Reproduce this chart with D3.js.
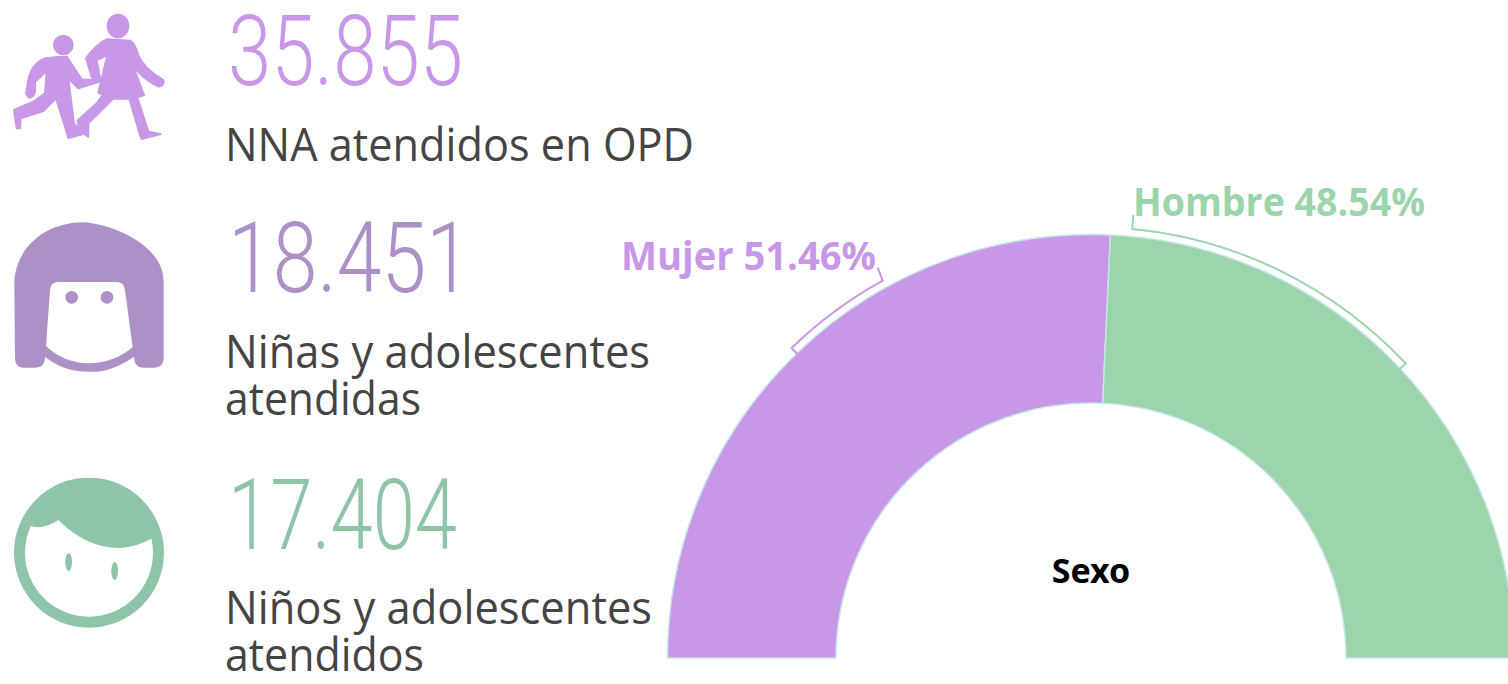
<!DOCTYPE html>
<html><head><meta charset="utf-8">
<script src="https://cdn.jsdelivr.net/npm/d3@7"></script>
<style>html,body{margin:0;padding:0;background:#fff;overflow:hidden}svg{display:block}</style>
</head><body><svg id="c" width="1508" height="684"></svg>
<script>
const sexCategories = ["Mujer", "Hombre"];
const sexValues = [51.46, 48.54];
const sexColors = ["#C997E8", "#9CD4AC"];
const statValues = [35855, 18451, 17404];
const statColors = ["#C997E8", "#AC90C6", "#8EC4A8"];
const statBaselines = [85, 292, 549];
const statWidths = [235, 243, 229];
const captionLines = [
  ["NNA atendidos en OPD", 161, 469],
  ["Niñas y adolescentes", 368, 425],
  ["atendidas", 415, 196],
  ["Niños y adolescentes", 624, 427],
  ["atendidos", 671, 199]
];
const bracketAngles = [[-44, -28.9], [5.5, 46.9]];

const svg = d3.select("#c");
const fmt = d3.formatLocale({decimal: ",", thousands: ".", grouping: [3], currency: ["", ""]}).format(",d");

// icons (drawn in 3x units)
const kids = svg.append("g").attr("transform", "scale(0.3333)").attr("fill", statColors[0])
  .attr("stroke", statColors[0]).attr("stroke-width", 6).attr("stroke-linejoin", "round");
kids.append("circle").attr("cx", 190).attr("cy", 135).attr("r", 28);
kids.append("ellipse").attr("cx", 354).attr("cy", 78).attr("rx", 31).attr("ry", 34);
kids.append("path").attr("d", "M165,172 L200,170 L245,238 L275,240 L300,232 L300,245 L235,265 L205,235 L222,370 L248,403 L205,414 L195,380 L168,295 L130,333 L62,355 L60,385 L50,385 L42,330 L100,305 L135,280 L140,213 L105,245 L105,275 Q100,295 85,292 L78,280 L85,240 Q95,190 135,175 Z");
kids.append("path").attr("d", "M320,118 L390,122 Q405,130 415,165 Q430,205 490,240 Q495,258 475,260 Q425,235 398,195 L432,285 L412,292 L445,395 L482,402 L425,417 L420,405 L388,296 L340,296 L265,370 L265,410 L240,395 L232,362 L290,310 L308,285 L295,278 L322,165 L290,180 L300,232 L278,240 L258,175 Q290,130 320,118 Z");

const girl = svg.append("g").attr("transform", "translate(0,210) scale(0.3333)").attr("fill", statColors[1]);
girl.append("path").attr("fill-rule", "evenodd").attr("d",
  "M43,215 C50,100 150,37 250,37 C330,42 490,100 491,215 L491,445 Q491,473 462,473 L430,473 Q403,473 402,440 Q330,490 265,485 Q190,485 135,440 Q135,473 105,473 L70,473 Q45,473 45,445 Z M175,216 L350,216 Q372,216 375,240 L398,412 Q340,460 265,460 Q190,458 138,408 L150,240 Q152,216 175,216 Z");
girl.append("circle").attr("cx", 215).attr("cy", 262).attr("r", 19);
girl.append("circle").attr("cx", 321).attr("cy", 262).attr("r", 19);

const boy = svg.append("g").attr("transform", "translate(0,470) scale(0.3333)").attr("fill", statColors[2]);
boy.append("circle").attr("cx", 267).attr("cy", 248).attr("r", 225);
boy.append("circle").attr("cx", 267).attr("cy", 248).attr("r", 192).attr("fill", "#fff");
boy.append("path").attr("d", "M92,168 Q130,180 175,150 Q260,235 360,234 Q410,232 457,205 L467,204 A205,205 0 0 0 79,166 Z");
boy.append("ellipse").attr("cx", 206).attr("cy", 276).attr("rx", 10).attr("ry", 27);
boy.append("ellipse").attr("cx", 344).attr("cy", 303).attr("rx", 10).attr("ry", 27);

// stats
svg.selectAll("text.stat").data(statValues).join("text").attr("class", "stat")
  .attr("x", 228).attr("y", (d, i) => statBaselines[i])
  .attr("textLength", (d, i) => statWidths[i]).attr("lengthAdjust", "spacingAndGlyphs")
  .attr("font-family", "Roboto").attr("font-weight", 300).attr("font-size", 98)
  .attr("fill", (d, i) => statColors[i]).text(d => fmt(d));

svg.selectAll("text.cap").data(captionLines).join("text").attr("class", "cap")
  .attr("x", 225).attr("y", d => d[1])
  .attr("textLength", d => d[2]).attr("lengthAdjust", "spacingAndGlyphs")
  .attr("font-family", "'Open Sans'").attr("font-size", 46).attr("fill", "#444").text(d => d[0]);

// gauge
const cx = 1091, cy = 658, outer = 423.5, inner = 255;
const pie = d3.pie().sort(null).startAngle(-Math.PI / 2).endAngle(Math.PI / 2);
const arc = d3.arc().innerRadius(inner).outerRadius(outer);
const g = svg.append("g").attr("transform", `translate(${cx},${cy})`);
g.selectAll("path.slice").data(pie(sexValues)).join("path").attr("class", "slice")
  .attr("d", arc).attr("fill", (d, i) => sexColors[i]).attr("stroke", "#c5e6e6").attr("stroke-width", 1.5);

const rad = d3.scaleLinear().domain([0, 180]).range([0, Math.PI]);
const pt = (deg, r) => [r * Math.sin(rad(deg)), -r * Math.cos(rad(deg))];
const bracketR = 431;
bracketAngles.forEach((a, i) => {
  const p = d3.path();
  const s = pt(a[0], bracketR), e = pt(a[1], bracketR);
  if (i === 0) {
    const t0 = pt(a[0], bracketR - 8), t1 = [e[0] - 5, e[1] - 13];
    p.moveTo(t0[0], t0[1]); p.lineTo(s[0], s[1]);
    p.arc(0, 0, bracketR, rad(a[0]) - Math.PI / 2, rad(a[1]) - Math.PI / 2);
    p.lineTo(t1[0], t1[1]);
  } else {
    const t0 = [s[0] + 1, s[1] - 14], t1 = pt(a[1], bracketR - 8);
    p.moveTo(t0[0], t0[1]); p.lineTo(s[0], s[1]);
    p.arc(0, 0, bracketR, rad(a[0]) - Math.PI / 2, rad(a[1]) - Math.PI / 2);
    p.lineTo(t1[0], t1[1]);
  }
  g.append("path").attr("d", p.toString()).attr("fill", "none").attr("stroke", sexColors[i]).attr("stroke-width", 2);
});

const labelPos = [[621, 270, 255], [1133, 216, 292]];
svg.selectAll("text.lab").data(sexCategories).join("text").attr("class", "lab")
  .attr("x", (d, i) => labelPos[i][0]).attr("y", (d, i) => labelPos[i][1])
  .attr("textLength", (d, i) => labelPos[i][2]).attr("lengthAdjust", "spacingAndGlyphs")
  .attr("font-family", "'Open Sans'").attr("font-weight", 700).attr("font-size", 39)
  .attr("fill", (d, i) => sexColors[i]).text((d, i) => `${d} ${sexValues[i].toFixed(2)}%`);

svg.append("text").attr("x", 1091).attr("y", 583).attr("text-anchor", "middle")
  .attr("font-family", "'Noto Sans'").attr("font-weight", 700).attr("font-size", 34).attr("fill", "#000").text("Sexo");
</script></body></html>
